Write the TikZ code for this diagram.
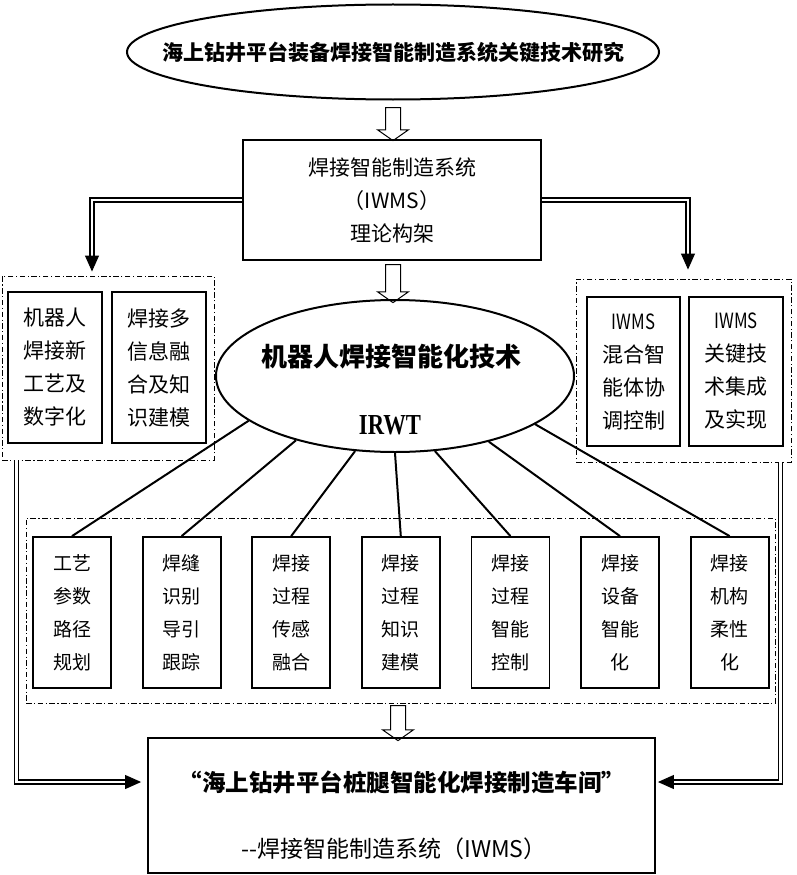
\documentclass[tikz,border=0pt]{standalone}
\usepackage{fontspec}
\usepackage{graphicx}
\setmainfont{Liberation Serif}
\newfontfamily\cjk{Noto Sans CJK SC}
\usetikzlibrary{chains,shapes.geometric,shapes.arrows,arrows.meta}

\begin{document}
\begin{tikzpicture}[
x=1pt,y=-1pt,
mybox/.style={
  draw,
  line width=1.8pt,
  inner sep=0pt,
  align=center
  },
myoval/.style={
  draw,
  ellipse,
  line width=2pt,
  inner sep=0pt
  },
mygroup/.style={
  draw,
  line width=0.9pt,
  dash pattern=on 5.5pt off 2.5pt on 1.2pt off 2.5pt,
  inner sep=0pt
  },
myhollow/.style={
  draw,
  fill=white,
  single arrow,
  single arrow head extend=8pt,
  single arrow tip angle=110,
  line width=1pt,
  inner sep=7pt,
  rotate=-90
  },
mydouble/.style={
  double,
  double distance=2.2pt,
  line width=1.5pt
  },
mytip/.style={
  -{Triangle[length=16pt,width=14pt]},
  line width=1pt
  },
myline/.style={line width=2pt},
cell/.style={font=\cjk\fontsize{21}{33}\selectfont}
]
\useasboundingbox (0,0) rectangle (797,875);

% top level
\node[myoval,minimum width=532pt,minimum height=95pt] (topic) at (393,52) {};
\node[font=\cjk\bfseries\fontsize{21}{25}\selectfont] (topictext) at (topic)
  {海上钻井平台装备焊接智能制造系统关键技术研究};
\node[myhollow,minimum height=33pt] (a1) at (393,121.5) {};
\node[mybox,cell,minimum width=298pt,minimum height=120pt] (iwms) at (392,200)
  {焊接智能制造系统\\（IWMS）\\理论构架};
\node[myhollow,minimum height=38pt] (a2) at (393,281) {};

% middle
\node[myoval,minimum width=358pt,minimum height=152pt] (irwt) at (395,376) {};
\node[font=\cjk\bfseries\fontsize{26}{30}\selectfont] (irwtname) at (391,357)
  {机器人焊接智能化技术};
\node[font=\bfseries\fontsize{29}{30}\selectfont] (irwtabbr) at (390,425)
  {\scalebox{0.78}[1]{IRWT}};

% side groups
\node[mygroup,minimum width=212pt,minimum height=184pt] (lgrp) at (108,368) {};
\node[mybox,cell,minimum width=94pt,minimum height=151pt] (l1) at (55,367.5)
  {机器人\\焊接新\\工艺及\\数字化};
\node[mybox,cell,minimum width=94pt,minimum height=151pt] (l2) at (159,367.5)
  {焊接多\\信息融\\合及知\\识建模};
\node[mygroup,minimum width=215pt,minimum height=183pt] (rgrp) at (683.5,370.5) {};
\node[mybox,cell,minimum width=93pt,minimum height=149pt] (r1) at (633.5,371.5)
  {\scalebox{0.8}[1]{IWMS}\\混合智\\能体协\\调控制};
\node[mybox,cell,minimum width=94pt,minimum height=149pt] (r2) at (736,371.5)
  {\scalebox{0.8}[1]{IWMS}\\关键技\\术集成\\及实现};

% seven techniques
\node[mygroup,minimum width=749pt,minimum height=185pt] (bgrp) at (400.5,610.5) {};
\begin{scope}[shift={(72,612.5)},start chain=going right,node distance=29.8pt]
\foreach \Text [count=\i] in {{工艺\\参数\\路径\\规划},{焊缝\\识别\\导引\\跟踪},
  {焊接\\过程\\传感\\融合},{焊接\\过程\\知识\\建模},{焊接\\过程\\智能\\控制},
  {焊接\\设备\\智能\\化},{焊接\\机构\\柔性\\化}}
  \node[mybox,on chain,minimum width=78pt,minimum height=151pt,
    font=\cjk\fontsize{19}{33}\selectfont] (t\i) {\Text};
\end{scope}
\foreach \Angle [count=\i] in {197.6,213.1,242.2,270,298.9,325.2,341.6}
  \draw[myline] (irwt.\Angle) -- (t\i.north);

% result
\node[myhollow,minimum height=35pt] (a3) at (398,720.5) {};
\node[mybox,minimum width=507pt,minimum height=135pt] (fin) at (401.5,805.5) {};
\node[font=\cjk\bfseries\fontsize{23.5}{28}\selectfont] (fintitle) at (402,782)
  {“海上钻井平台桩腿智能化焊接制造车间”};
\node[font=\cjk\fontsize{23}{28}\selectfont] (finsub) at (394,849)
  {--焊接智能制造系统（IWMS）};

% double connectors
\coordinate (la) at (92,256);
\coordinate (ra) at (688,254);
\coordinate (lb) at (126,782);
\coordinate (rb) at (673,782);
\draw[mydouble] (iwms.west) -| (la);
\draw[mytip,shorten >=4pt] (la) -- (la |- lgrp.north);
\draw[mydouble] (iwms.east) -| (ra);
\draw[mytip,shorten >=9pt] (ra) -- (ra |- rgrp.north);
\draw[mydouble] ([xshift=15pt]lgrp.south west) |- (lb);
\draw[mytip,shorten >=6pt] (lb) -- (lb -| fin.west);
\draw[mydouble] ([xshift=-11pt]rgrp.south east) |- (rb);
\draw[mytip,shorten >=2pt] (rb) -- (rb -| fin.east);
\end{tikzpicture}
\end{document}
